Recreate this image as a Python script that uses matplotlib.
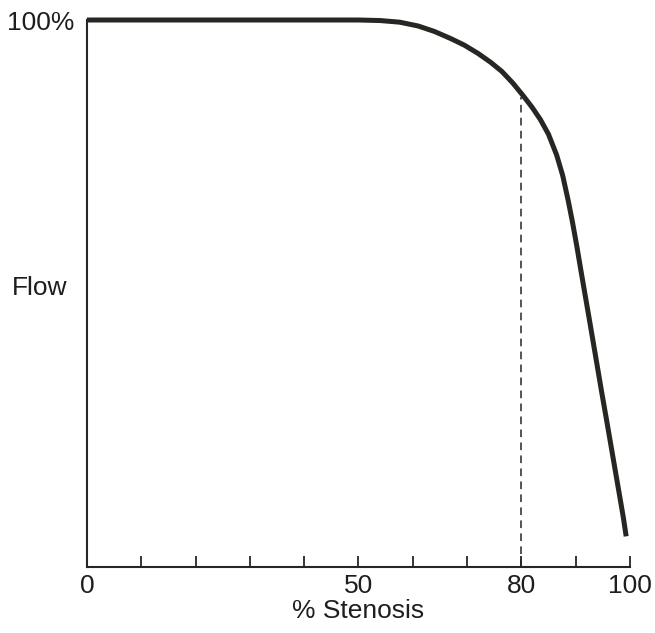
import matplotlib
matplotlib.use("Agg")
import matplotlib.pyplot as plt

plt.rcParams["font.family"] = ["Liberation Sans", "DejaVu Sans"]

# % stenosis vs flow (%)
stenosis = [0, 10, 20, 30, 40, 50, 54, 57.6, 61, 64, 67, 69.5, 72, 74.3, 76.4,
            78.4, 80.3, 82, 83.5, 85, 86.5, 87.6, 88.6, 89.4, 90.2, 91.0, 91.9,
            92.7, 93.4, 94.1, 94.8, 95.7, 96.5, 97.4, 98.2, 98.8, 99.3]
flow = [100, 100, 100, 100, 100, 100, 99.9, 99.6, 98.9, 97.9, 96.6, 95.4, 93.9, 92.3, 90.6,
        88.5, 86.2, 84.0, 81.8, 79.1, 75.3, 71.6, 67.1, 63.1, 58.7, 54.0, 48.8,
        44.2, 40.1, 36.0, 31.9, 26.8, 22.2, 17.0, 12.4, 8.9, 5.6]

marker_x = 80
marker_flow = 86.0

tick_pos = [0, 10, 20, 30, 40, 50, 60, 70, 80, 90, 100]
tick_labels = ["0", "", "", "", "", "50", "", "", "80", "", "100"]

fig = plt.figure(figsize=(6.55, 6.33), dpi=100)
ax = fig.add_axes([0.1328, 0.1043, 0.8290, 0.8641])

ink = "#262622"
ax.plot(stenosis, flow, color=ink, lw=3.6, solid_capstyle="butt",
        solid_joinstyle="round", clip_on=False, zorder=3)
ax.plot([marker_x, marker_x], [0, marker_flow], color=ink, lw=1.1, ls=(0, (5, 3.5)), zorder=2)

ax.set_xlim(0, 100)
ax.set_ylim(0, 100)
for s in ["top", "right"]:
    ax.spines[s].set_visible(False)
for s in ["left", "bottom"]:
    ax.spines[s].set_color(ink)
    ax.spines[s].set_linewidth(1.5)

ax.set_xticks(tick_pos)
ax.set_xticklabels(tick_labels)
ax.tick_params(axis="x", direction="in", length=8, width=1.3, color=ink,
               labelsize=19, labelcolor="#1e1e1e", pad=5)
ax.set_yticks([100])
ax.set_yticklabels(["100%"])
ax.tick_params(axis="y", length=0, labelsize=19, labelcolor="#1e1e1e", pad=9)

fig.text(0.018, 0.545, "Flow", fontsize=19, color="#1e1e1e", va="center", ha="left")
ax.set_xlabel("% Stenosis", fontsize=19, color="#1e1e1e", labelpad=1)

fig.savefig("out.png", dpi=100)
